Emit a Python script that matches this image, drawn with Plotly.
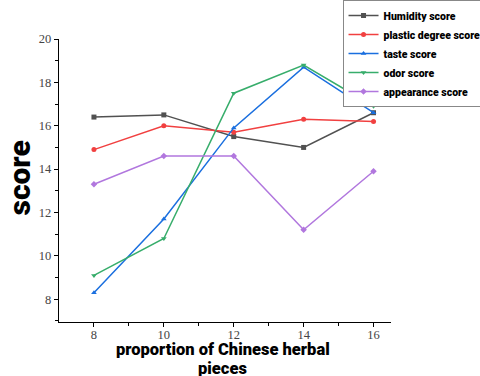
import plotly.graph_objects as go

x_vals = [8, 10, 12, 14, 16]
humidity = [16.4, 16.5, 15.5, 15.0, 16.6]
plastic = [14.9, 16.0, 15.7, 16.3, 16.2]
taste = [8.3, 11.7, 15.9, 18.7, 16.6]
odor = [9.1, 10.8, 17.5, 18.8, 16.9]
appearance = [13.3, 14.6, 14.6, 11.2, 13.9]

series_names = ["Humidity score", "plastic degree score", "taste score", "odor score", "appearance score"]
series_data = [humidity, plastic, taste, odor, appearance]
colors = ["#515151", "#F14040", "#1A6FDF", "#37AD6B", "#B177DE"]
symbols = ["square", "circle", "triangle-up", "triangle-down", "diamond"]

fig = go.Figure()
for name, data, c, s in zip(series_names, series_data, colors, symbols):
    fig.add_trace(go.Scatter(
        x=x_vals, y=data, name=name, mode="lines+markers",
        line=dict(color=c, width=1.5),
        marker=dict(color=c, symbol=s, size=5),
    ))

heavy = "Arial Black, Roboto, DejaVu Sans, sans-serif"
tickfont = dict(family="Liberation Serif, DejaVu Serif, serif", size=12.5, color="#444444")
title_font = dict(family=heavy, size=16.5, color="black", weight=900)

fig.update_layout(
    width=480, height=376,
    margin=dict(l=59, r=88.5, t=39, b=54.3, autoexpand=False),
    plot_bgcolor="white", paper_bgcolor="white",
    showlegend=True,
    legend=dict(
        x=0.854, y=1.138, xanchor="left", yanchor="top",
        bordercolor="#888888", borderwidth=1, bgcolor="white",
        font=dict(family=heavy, size=10.5, color="black", weight=900),
        itemwidth=30, tracegroupgap=0,
    ),
    xaxis=dict(
        range=[7, 16.5], tickvals=x_vals, ticks="outside", ticklen=4, tickwidth=1,
        tickcolor="black", showline=True, linecolor="black", linewidth=1.3,
        showgrid=False, zeroline=False, tickfont=tickfont, ticklabelstandoff=-3,
        minor=dict(tickvals=[9, 11, 13, 15], ticks="outside", ticklen=3, tickcolor="black", showgrid=False),
    ),
    yaxis=dict(
        range=[6.95, 20], tickvals=[8, 10, 12, 14, 16, 18, 20], ticks="outside", ticklen=4, tickwidth=1,
        tickcolor="black", showline=True, linecolor="black", linewidth=1.3,
        showgrid=False, zeroline=False, tickfont=tickfont,
        minor=dict(tickvals=[7, 9, 11, 13, 15, 17, 19], ticks="outside", ticklen=3, tickcolor="black", showgrid=False),
    ),
    annotations=[
        dict(text="proportion of Chinese herbal", xref="paper", yref="paper",
             x=0.493, y=-0.0966, xanchor="center", yanchor="middle", showarrow=False,
             font=title_font),
        dict(text="pieces", xref="paper", yref="paper",
             x=0.493, y=-0.1638, xanchor="center", yanchor="middle", showarrow=False,
             font=title_font),
        dict(text="score", xref="paper", yref="paper", textangle=-90,
             x=-0.118, y=0.51, xanchor="center", yanchor="middle", showarrow=False,
             font=dict(family=heavy, size=30, color="black", weight=900)),
    ],
)

fig.write_html("out.html", config={"displayModeBar": False},
               post_script="document.body.style.margin='0px';")
